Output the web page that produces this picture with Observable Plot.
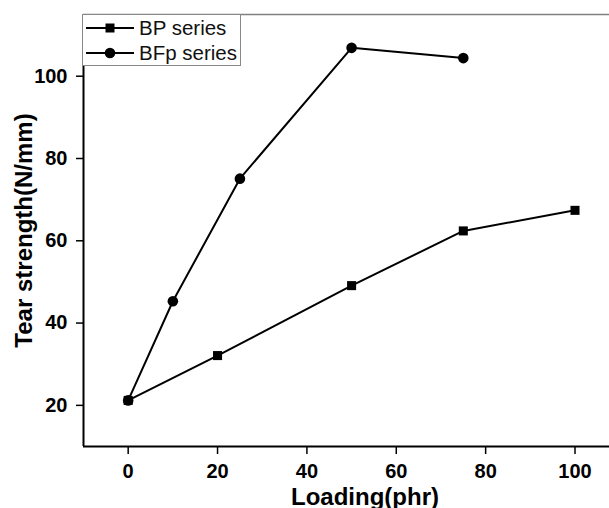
<!DOCTYPE html>
<html><head><meta charset="utf-8">
<script src="https://cdn.jsdelivr.net/npm/d3@7"></script>
<script src="https://cdn.jsdelivr.net/npm/@observablehq/plot@0.6"></script>
<style>
html,body{margin:0;padding:0;background:#fff;overflow:hidden;}
#wrap{position:relative;width:609px;height:508px;overflow:hidden;background:#fff;}
#legend{position:absolute;left:82px;top:14px;width:159px;height:52px;box-sizing:border-box;border:1px solid #888;background:#fff;font-family:"Liberation Sans",Arial,sans-serif;font-size:20.5px;color:#111;}
.row{position:absolute;left:0;height:24px;width:156px;}
.row svg{position:absolute;left:1px;top:0;}
.row span{position:absolute;left:56px;top:0;line-height:24px;white-space:nowrap;}
</style>
</head><body>
<div id="wrap"><div id="chart"></div><div id="legend"></div></div>
<script>
// Data
const seriesNames = ["BP series", "BFp series"];
const seriesSymbols = ["square", "circle"];
const loadingBP = [0, 20, 50, 75, 100];
const strengthBP = [21.2, 32.1, 49.1, 62.4, 67.4];
const loadingBFp = [0, 10, 25, 50, 75];
const strengthBFp = [21.2, 45.3, 75.1, 106.9, 104.4];
const xTicks = [0, 20, 40, 60, 80, 100];
const yTicks = [20, 40, 60, 80, 100];
const xDomain = [-10, 116];
const yDomain = [10, 115];
const xLabel = "Loading(phr)";
const yLabel = "Tear strength(N/mm)";

const bp = loadingBP.map((x, i) => ({x, y: strengthBP[i]}));
const bfp = loadingBFp.map((x, i) => ({x, y: strengthBFp[i]}));
const font = "'Liberation Sans', Arial, sans-serif";

const chart = Plot.plot({
  width: 609,
  height: 508,
  marginLeft: 83,
  marginRight: -37,
  marginTop: 14,
  marginBottom: 62,
  x: {domain: xDomain},
  y: {domain: yDomain},
  style: {fontFamily: font, background: "white", color: "black"},
  marks: [
    Plot.ruleY([yDomain[1]], {stroke: "#808080", strokeWidth: 1.5}),
    Plot.axisY({ticks: yTicks, tickSize: 7, tickPadding: 9, fontSize: 20, fontWeight: "bold", strokeWidth: 1.5, label: null, tickFormat: d => d}),
    Plot.axisX({ticks: xTicks, tickSize: 8, tickPadding: 9, fontSize: 20, fontWeight: "bold", strokeWidth: 1.5, label: null, tickFormat: d => d}),
    Plot.ruleX([xDomain[0]], {stroke: "black", strokeWidth: 2}),
    Plot.ruleY([yDomain[0]], {stroke: "black", strokeWidth: 2}),
    Plot.text([xLabel], {frameAnchor: "bottom", textAnchor: "middle", lineAnchor: "bottom", dy: 58, fontSize: 24, fontWeight: "bold", fill: "black"}),
    Plot.text([yLabel], {frameAnchor: "left", textAnchor: "middle", rotate: -90, lineAnchor: "bottom", dx: -51.5, fontSize: 24, fontWeight: "bold", fill: "black"}),
    Plot.line(bp, {x: "x", y: "y", stroke: "black", strokeWidth: 2}),
    Plot.line(bfp, {x: "x", y: "y", stroke: "black", strokeWidth: 2}),
    Plot.dot(bp, {x: "x", y: "y", symbol: "square", r: 5.1, fill: "black", stroke: "none"}),
    Plot.dot(bfp, {x: "x", y: "y", symbol: "circle", r: 5.3, fill: "black", stroke: "none"})
  ]
});
document.getElementById("chart").appendChild(chart);

// Legend
const legend = d3.select("#legend");
seriesNames.forEach((name, i) => {
  const row = legend.append("div").attr("class", "row").style("top", (i === 0 ? 1 : 26) + "px");
  const svg = row.append("svg").attr("width", 52).attr("height", 24);
  svg.append("line").attr("x1", 2).attr("x2", 50).attr("y1", 12).attr("y2", 12)
    .attr("stroke", "black").attr("stroke-width", 2);
  const sym = d3.symbol(seriesSymbols[i] === "square" ? d3.symbolSquare : d3.symbolCircle,
    seriesSymbols[i] === "square" ? 81 : Math.PI * 5.3 * 5.3);
  svg.append("path").attr("d", sym()).attr("transform", "translate(26,12)").attr("fill", "black");
  row.append("span").text(name);
});
</script>
</body></html>
